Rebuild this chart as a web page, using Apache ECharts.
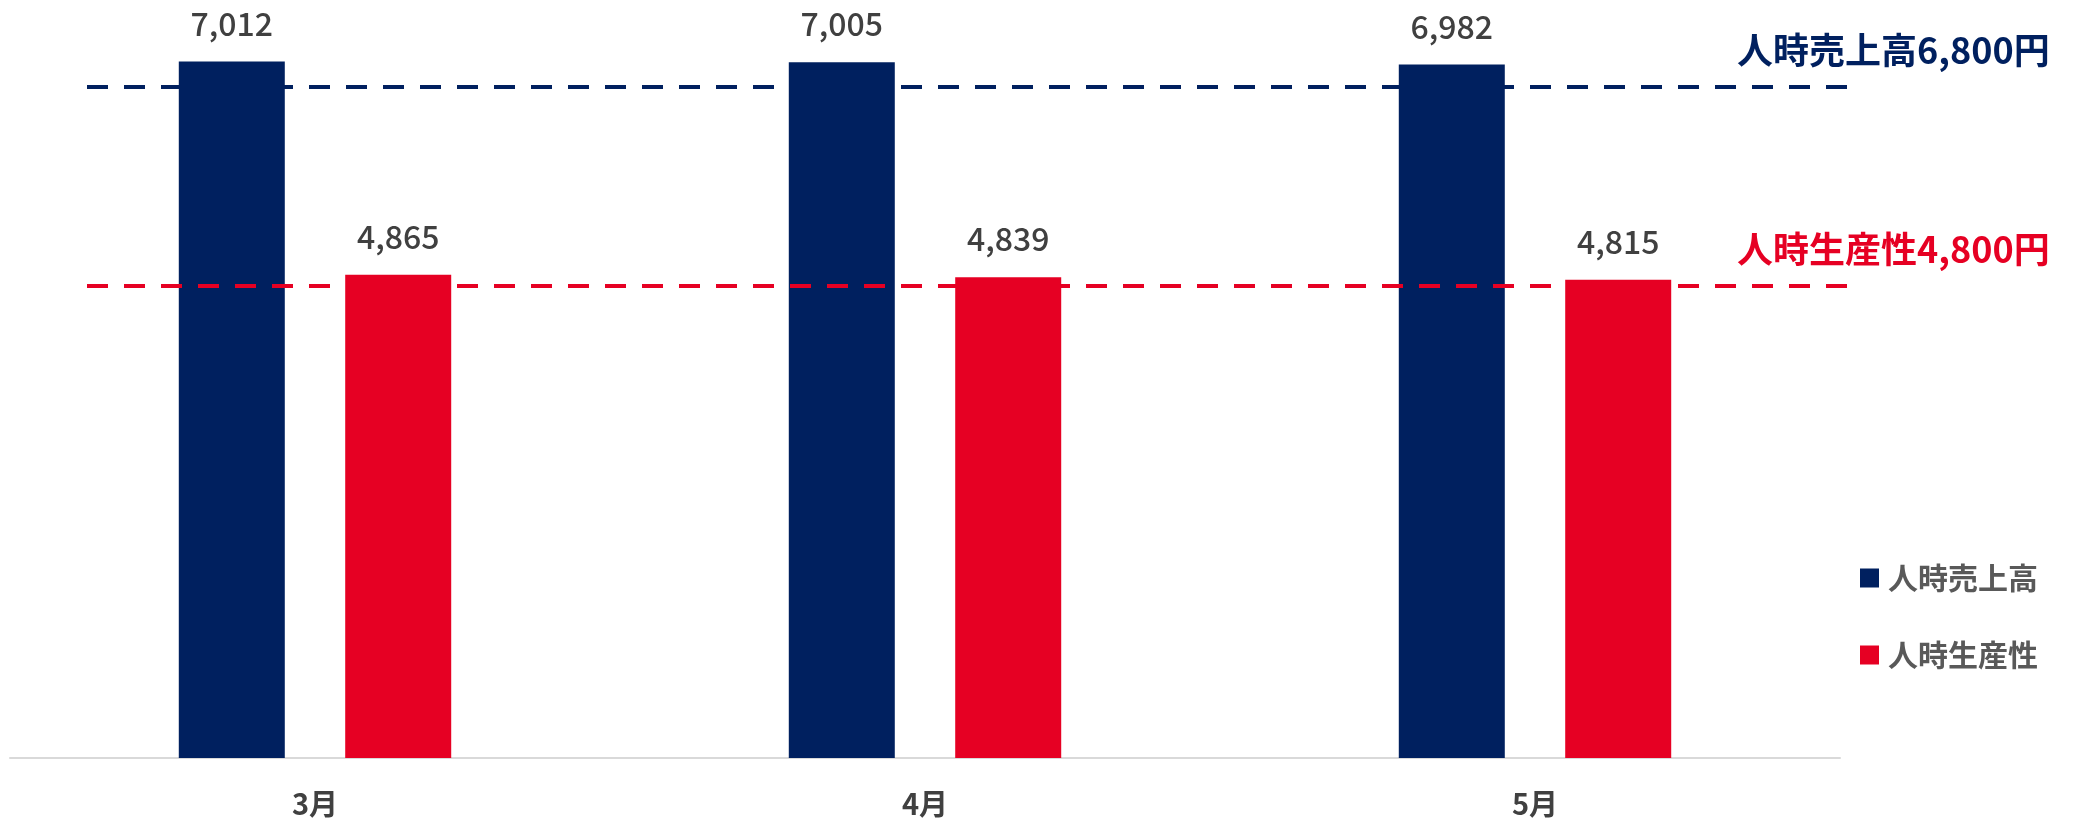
<!DOCTYPE html>
<html>
<head>
<meta charset="utf-8">
<script src="https://cdn.jsdelivr.net/npm/echarts@6/dist/echarts.min.js"></script>
<style>
  html, body { margin: 0; padding: 0; background: #fff; }
  #chart { width: 2074px; height: 821px; }
</style>
</head>
<body>
<div id="chart"></div>
<script>
  // data
  var months = ['3月', '4月', '5月'];
  var salesPerHour = [7012, 7005, 6982];      // 人時売上高
  var productivity = [4865, 4839, 4815];      // 人時生産性
  var targetSales = 6800;
  var targetProd = 4800;

  var navy = '#00205F';
  var red = '#E60023';
  var font = '"Noto Sans CJK JP", "Noto Sans", sans-serif';

  var chart = echarts.init(document.getElementById('chart'));

  function fmt(p) {
    return Number(p.value).toLocaleString('en-US');
  }

  var barLabel = {
    show: true,
    position: 'top',
    distance: 22,
    color: '#404040',
    fontSize: 32,
    fontWeight: 500,
    fontFamily: font,
    formatter: fmt
  };

  var option = {
    animation: false,
    textStyle: { fontFamily: font },
    grid: [
      { left: 10, right: 234, top: 13, bottom: 63 },
      // 目標ライン用（破線は軸より少し内側から始まる）
      { left: 87, right: 217, top: 17, bottom: 57 }
    ],
    legend: {
      orient: 'vertical',
      left: 1855,
      top: 558,
      data: ['人時売上高', '人時生産性'],
      icon: 'rect',
      itemWidth: 19,
      itemHeight: 19,
      itemGap: 47,
      textStyle: {
        color: '#595959',
        fontSize: 30,
        fontWeight: 'bold',
        fontFamily: font,
        padding: [0, 0, 0, 4]
      }
    },
    xAxis: [{
      type: 'category',
      gridIndex: 0,
      data: months,
      axisLine: { lineStyle: { color: '#D9D9D9', width: 2 } },
      axisTick: { show: false },
      axisLabel: {
        color: '#404040',
        fontSize: 29,
        fontWeight: 'bold',
        fontFamily: font,
        margin: 31
      }
    }, {
      type: 'category',
      gridIndex: 1,
      data: months,
      show: false
    }],
    yAxis: [{
      type: 'value',
      gridIndex: 0,
      min: 0,
      max: 7500,
      show: false,
      splitLine: { show: false }
    }, {
      type: 'value',
      gridIndex: 1,
      min: 0,
      max: 7500,
      show: false,
      splitLine: { show: false }
    }],
    series: [{
      name: '人時売上高',
      type: 'bar',
      data: salesPerHour,
      barWidth: 106,
      barGap: '57%',
      itemStyle: { color: navy },
      label: barLabel
    }, {
      name: '人時生産性',
      type: 'bar',
      data: productivity,
      barWidth: 106,
      itemStyle: { color: red },
      label: barLabel
    }, {
      name: 'target',
      type: 'line',
      xAxisIndex: 1,
      yAxisIndex: 1,
      data: [],
      z: 10,
      markLine: {
        silent: true,
        symbol: 'none',
        z: 10,
        data: [{
          yAxis: targetSales,
          lineStyle: { color: navy, type: [21, 16], width: 4 },
          label: {
            show: true,
            position: 'end',
            distance: 0,
            offset: [-120, -36],
            formatter: '人時売上高' + targetSales.toLocaleString('en-US') + '円',
            color: navy,
            fontSize: 36,
            fontWeight: 'bold',
            fontFamily: font
          }
        }, {
          yAxis: targetProd,
          lineStyle: { color: red, type: [21, 16], width: 4 },
          label: {
            show: true,
            position: 'end',
            distance: 0,
            offset: [-120, -37],
            formatter: '人時生産性' + targetProd.toLocaleString('en-US') + '円',
            color: red,
            fontSize: 36,
            fontWeight: 'bold',
            fontFamily: font
          }
        }]
      }
    }]
  };

  chart.setOption(option);
</script>
</body>
</html>
